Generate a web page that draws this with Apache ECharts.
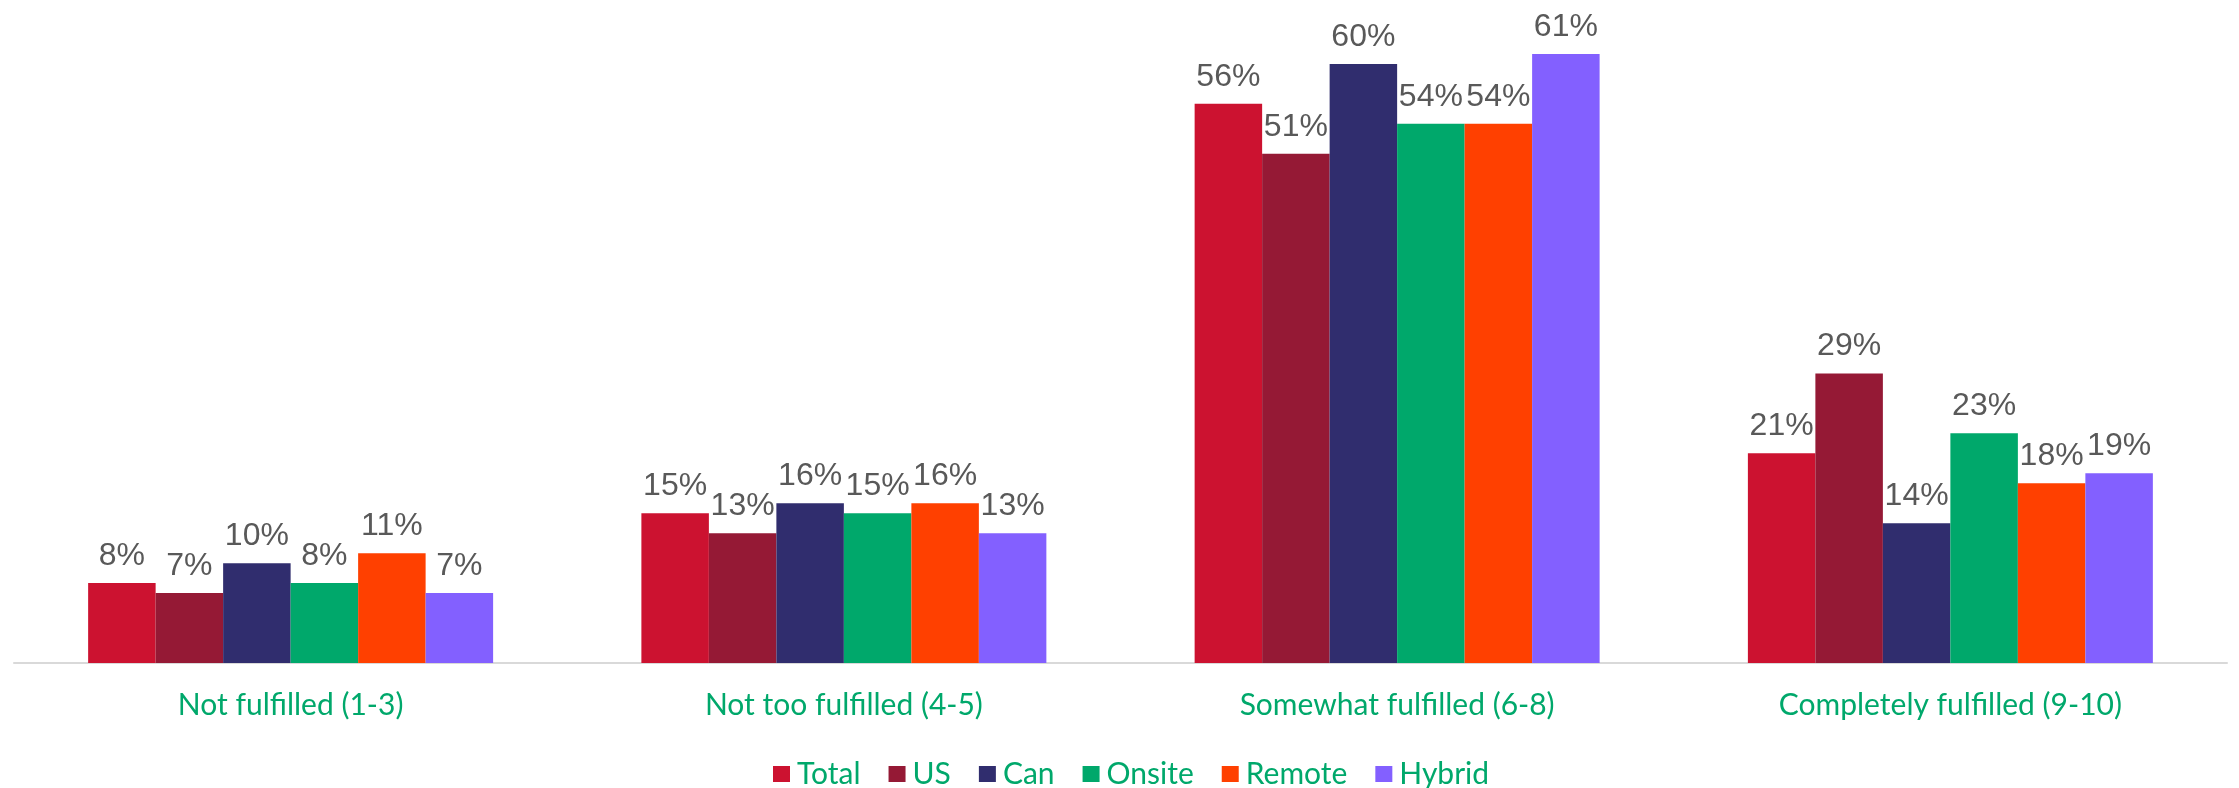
<!DOCTYPE html>
<html>
<head>
<meta charset="utf-8">
<script src="https://cdn.jsdelivr.net/npm/echarts@6/dist/echarts.min.js"></script>
<style>
html,body{margin:0;padding:0;background:#fff;}
#chart{width:2239px;height:788px;}
</style>
</head>
<body>
<div id="chart"></div>
<script>
const categories = ['Not fulfilled (1-3)', 'Not too fulfilled (4-5)', 'Somewhat fulfilled (6-8)', 'Completely fulfilled (9-10)'];
const seriesNames = ['Total', 'US', 'Can', 'Onsite', 'Remote', 'Hybrid'];
const total  = [8, 15, 56, 21];
const us     = [7, 13, 51, 29];
const can    = [10, 16, 60, 14];
const onsite = [8, 15, 54, 23];
const remote = [11, 16, 54, 18];
const hybrid = [7, 13, 61, 19];
const colors = ['#CC1230', '#951935', '#302D6E', '#00A86B', '#FF4000', '#8360FF'];

const values = [total, us, can, onsite, remote, hybrid];
const green = '#00A86B';

const chart = echarts.init(document.getElementById('chart'));
chart.setOption({
  animation: false,
  color: colors,
  grid: { left: 14, right: 12, top: 4, bottom: 125, containLabel: false },
  legend: {
    data: seriesNames,
    top: 754,
    left: 768,
    itemWidth: 17,
    itemHeight: 16,
    itemGap: 28,
    icon: 'rect',
    textStyle: { color: green, fontSize: 30, fontFamily: 'Lato', padding: [0, 0, 0, 2] }
  },
  xAxis: {
    type: 'category',
    data: categories,
    axisLine: { lineStyle: { color: '#D9D9D9', width: 2 } },
    axisTick: { show: false },
    axisLabel: { color: green, fontSize: 30, fontFamily: 'Lato', margin: 27, interval: 0 }
  },
  yAxis: {
    type: 'value',
    min: 0,
    max: 66,
    show: false,
    splitLine: { show: false }
  },
  series: seriesNames.map((n, i) => ({
    name: n,
    type: 'bar',
    data: values[i],
    barGap: '0%',
    barCategoryGap: '26.8%',
    label: {
      show: true,
      position: 'top',
      distance: 11,
      formatter: '{c}%',
      color: '#595959',
      fontSize: 32,
      fontFamily: 'Liberation Sans'
    }
  }))
});
</script>
</body>
</html>
